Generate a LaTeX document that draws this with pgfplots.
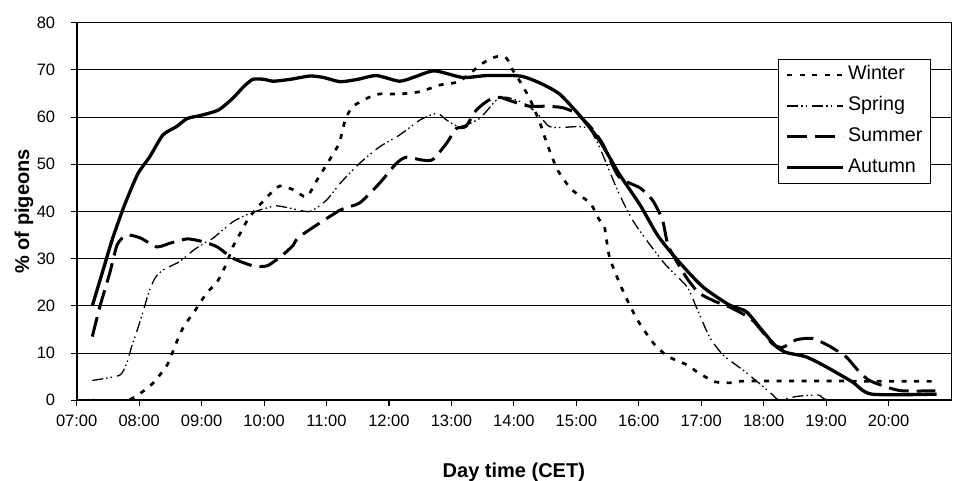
\documentclass[border=0pt]{standalone}
\usepackage{pgfplots}
\pgfplotsset{compat=1.18}
\usepackage{fontspec}
\setmainfont{Liberation Sans}

\pgfplotstableread{
h v
7.25 0
7.80 0
8.02 1.5
8.22 3.6
8.45 7.5
8.55 10.7
8.70 15.3
8.92 19.5
9.08 22.7
9.25 25.1
9.40 29
9.50 32.5
9.62 35.4
9.77 38.9
10.05 43.1
10.25 45.4
10.47 44.6
10.68 43.1
10.85 46.7
11.00 49.9
11.20 54.4
11.30 59.4
11.42 62.2
11.65 64
11.85 64.9
12.17 64.9
12.50 65.4
12.82 66.8
13.13 67.6
13.50 71.4
13.72 72.8
13.88 72.5
13.98 70
14.10 67.5
14.25 64
14.42 58.7
14.53 54.4
14.70 48.8
14.93 44.6
15.22 41.8
15.37 38.2
15.45 36.8
15.53 30.4
15.70 24.6
15.85 20.3
15.98 17
16.12 14.2
16.28 11.4
16.48 9.2
16.77 7.5
16.97 5.7
17.23 3.9
17.50 3.7
17.82 4.1
20.75 4
}\winter

\pgfplotstableread{
h v
7.25 4.2
7.48 4.7
7.70 5.4
7.80 7.8
7.88 11.4
7.97 14.9
8.07 19.1
8.15 22.7
8.25 25.8
8.38 27.6
8.65 29.4
8.87 31.8
9.08 33.6
9.18 34.3
9.50 37.8
9.77 39.6
10.03 40.7
10.20 41.2
10.42 40.7
10.73 40
11.00 42.4
11.22 46
11.53 50.2
11.85 53.7
12.17 56.2
12.50 59.4
12.77 60.8
12.92 59.4
13.13 58
13.45 59.7
13.72 63.6
13.88 64.2
14.10 63.3
14.25 62.2
14.42 60.1
14.57 58
14.78 57.8
15.05 58
15.22 57.3
15.37 53.7
15.48 50.2
15.68 43.9
15.90 38.2
16.12 34
16.43 28.7
16.77 24.1
16.92 19.8
17.13 13.5
17.35 9.6
17.67 6.4
17.93 3.6
18.15 1.1
18.25 0
18.52 0.8
18.88 1.1
19.10 0
20.75 0
}\spring

\pgfplotstableread{
h v
7.25 13.5
7.37 19.8
7.53 27
7.65 33
7.80 35
8.02 34.4
8.28 32.5
8.50 33.3
8.77 34.2
9.02 33.6
9.25 32.5
9.50 30.1
9.82 28.5
10.05 28.5
10.30 30.8
10.47 32.9
10.57 34.7
11.22 40.3
11.53 41.8
11.85 46
12.12 50.2
12.28 51.5
12.53 50.9
12.70 51
12.92 54.4
13.08 57.6
13.23 58
13.40 61.5
13.60 63.6
13.77 64.2
13.98 63.3
14.25 62.3
14.52 62.3
14.78 62
15.00 60.8
15.22 58
15.42 54.4
15.68 47.4
16.02 45
16.22 42.4
16.38 38.2
16.48 32.5
16.77 25.9
16.97 22.7
17.23 20.9
17.45 19.8
17.82 17
18.13 12.1
18.30 11.2
18.52 12.8
18.78 13.1
19.05 11.5
19.32 9.2
19.48 6.8
19.68 4.3
19.97 2.8
20.22 2
20.75 2
}\summer

\pgfplotstableread{
h v
7.25 20
7.42 27.5
7.58 34.5
7.77 41.5
7.98 48
8.17 51.6
8.38 56.2
8.60 58
8.77 59.7
9.00 60.4
9.27 61.5
9.50 64
9.67 66.4
9.82 68
10.00 68
10.15 67.6
10.42 68
10.73 68.7
10.95 68.4
11.22 67.5
11.50 68
11.80 68.8
12.17 67.6
12.43 68.6
12.73 69.8
13.18 68.4
13.57 68.8
14.10 68.7
14.42 67.2
14.73 64.9
15.05 60.4
15.37 55.1
15.68 48.1
16.02 41.4
16.30 35
16.60 30
17.02 24.1
17.45 20.2
17.72 18.8
17.97 14.9
18.20 11.4
18.37 10.1
18.68 9.2
19.00 7.1
19.42 3.9
19.73 1.3
20.77 1.3
}\autumn

\begin{document}
\begin{tikzpicture}
\begin{axis}[
  scale only axis,
  width=874.3pt, height=377.6pt,
  xmin=7, xmax=21, ymin=0, ymax=80,
  xtick={7,8,...,20},
  xticklabels={07:00,08:00,09:00,10:00,11:00,12:00,13:00,14:00,15:00,16:00,17:00,18:00,19:00,20:00},
  ytick={0,10,...,80},
  ymajorgrids,
  major grid style={black, line width=1pt},
  axis line style={black, line width=1pt},
  tick style={black, line width=1.1pt},
  tick pos=left, tick align=outside,
  major tick length=6pt,
  /pgf/number format/assume math mode=true,
  tick label style={font=\fontsize{16.5}{18}\selectfont},
  yticklabel style={xshift=-12pt},
  xticklabel style={yshift=-5pt},
  xlabel={Day time (CET)},
  ylabel={\% of pigeons},
  label style={font=\fontsize{20}{24}\selectfont\bfseries},
  xlabel style={at={(axis description cs:0.5,0)}, anchor=base, yshift=-77.4pt},
  ylabel style={at={(axis description cs:-0.0603,0.5)}, anchor=center},
  legend style={at={(0.9771,0.9039)}, anchor=north east, draw=black, line width=1pt,
    fill=white, font=\fontsize{19.7}{22}\selectfont, inner xsep=7pt, inner ysep=5.5pt,
    row sep=10.9pt, column sep=2pt,
    nodes={inner sep=1pt, text height=14pt, text depth=4pt}},
  legend cell align=left,
  legend image code/.code={\draw[#1] (0pt,0pt) -- (56pt,0pt);},
]
\addplot[black, line width=2.7pt, dash pattern=on 5pt off 7.5pt, smooth, tension=0.4] table[x=h,y=v] {\winter};
\addlegendentry{Winter}
\addplot[black, line width=1.3pt, dash pattern=on 11pt off 3pt on 1.5pt off 3pt on 1.5pt off 5pt, smooth, tension=0.4] table[x=h,y=v] {\spring};
\addlegendentry{Spring}
\addplot[black, line width=3pt, dash pattern=on 20pt off 8pt, smooth, tension=0.4] table[x=h,y=v] {\summer};
\addlegendentry{Summer}
\addplot[black, line width=3.3pt, smooth, tension=0.4] table[x=h,y=v] {\autumn};
\addlegendentry{Autumn}
\draw[black, line width=2pt] (rel axis cs:0,1) -- (rel axis cs:0,0) -- (rel axis cs:1,0);
\end{axis}
\pgfresetboundingbox
\path ([xshift=-76.7pt,yshift=-80.7pt]current axis.south west) rectangle ([xshift=3pt,yshift=22.7pt]current axis.north east);
\end{tikzpicture}
\end{document}
